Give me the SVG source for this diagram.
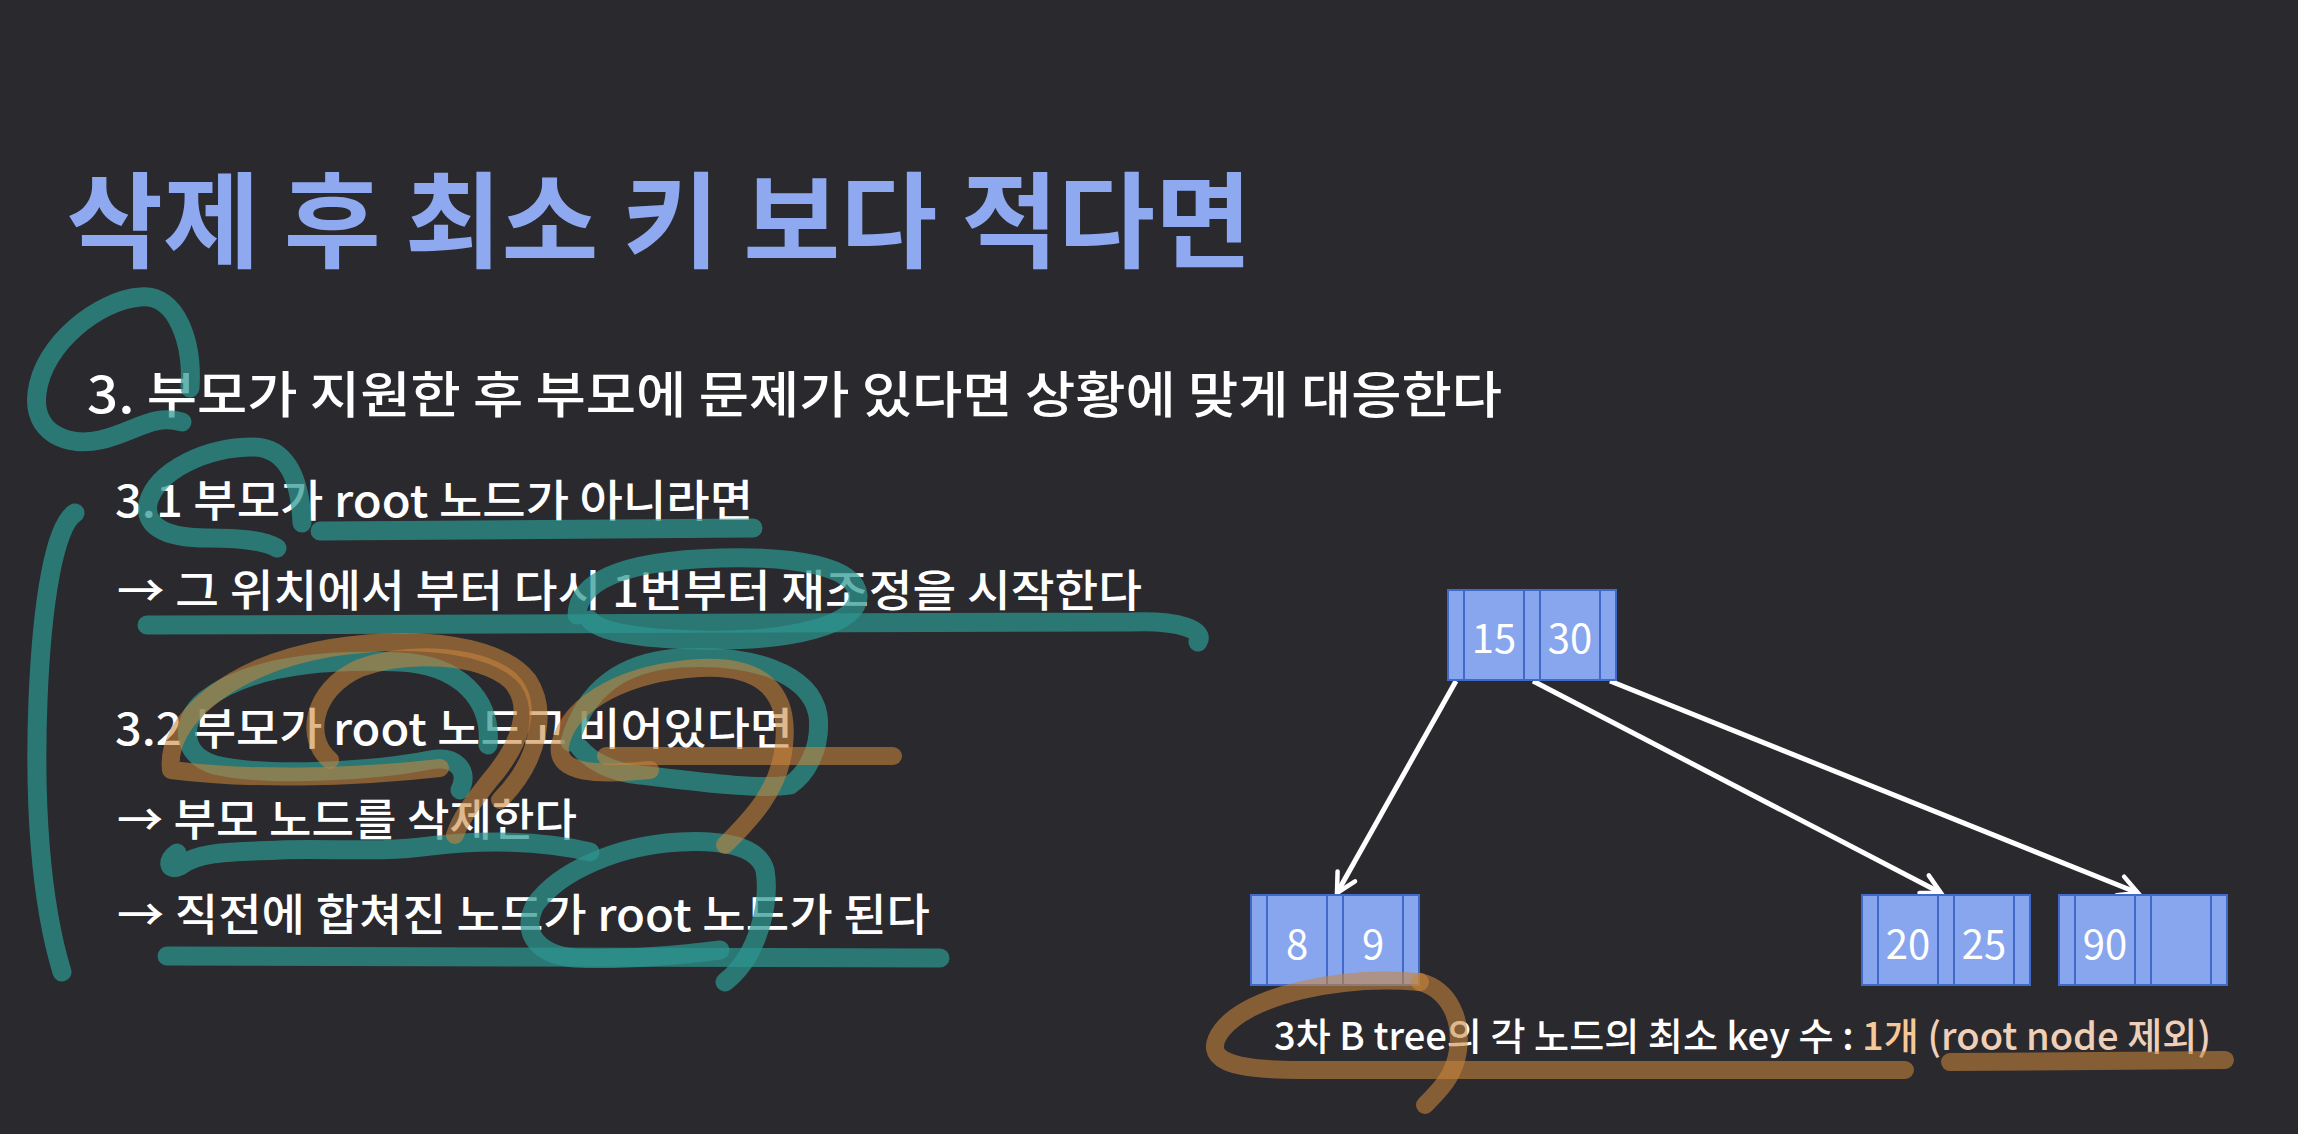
<svg xmlns="http://www.w3.org/2000/svg" width="2298" height="1134" viewBox="0 0 2298 1134">
<style>
.bg{fill:#2a292d}
.title{font-family:"Noto Sans CJK KR","Noto Sans",sans-serif;font-weight:700;fill:#8ea9ef}
.t{font-family:"Noto Sans CJK KR","Noto Sans",sans-serif;font-weight:500;fill:#ffffff}
.key{font-family:"Noto Sans CJK KR","Noto Sans",sans-serif;font-size:40px;fill:#ffffff;text-anchor:middle}
.box{fill:#88a6ee;stroke:#4169c9;stroke-width:2}
.sep{stroke:#4169c9;stroke-width:2}
.edge{stroke:#ffffff;stroke-width:5;fill:none}
.teal{fill:none;stroke:#2d9590;stroke-opacity:0.72;stroke-width:19;stroke-linecap:round;stroke-linejoin:round}
.orange{fill:none;stroke:#c8843c;stroke-opacity:0.58;stroke-width:18;stroke-linecap:round;stroke-linejoin:round}
</style>
<defs>
<marker id="ah" markerWidth="26" markerHeight="26" refX="22" refY="13" orient="auto" markerUnits="userSpaceOnUse">
<path d="M3,3 L22,13 L3,23" fill="none" stroke="#ffffff" stroke-width="4.5" stroke-linecap="round"/>
</marker>
<g id="nodebox">
<rect class="box" x="0" y="0" width="168" height="90"/>
<line class="sep" x1="16" y1="0" x2="16" y2="90"/>
<line class="sep" x1="76" y1="0" x2="76" y2="90"/>
<line class="sep" x1="92" y1="0" x2="92" y2="90"/>
<line class="sep" x1="152" y1="0" x2="152" y2="90"/>
</g>
</defs>
<rect class="bg" x="0" y="0" width="2298" height="1134"/>

<g id="title">
<text class="title" x="66" y="260" font-size="104" textLength="1186" lengthAdjust="spacingAndGlyphs">삭제 후 최소 키 보다 적다면</text>
</g>

<g id="body-text">
<text class="t" x="87" y="413" font-size="50" textLength="1415" lengthAdjust="spacingAndGlyphs">3. 부모가 지원한 후 부모에 문제가 있다면 상황에 맞게 대응한다</text>
<text class="t" x="115" y="517" font-size="44" textLength="638" lengthAdjust="spacingAndGlyphs">3.1 부모가 root 노드가 아니라면</text>
<text class="t" x="117" y="607" font-size="44" textLength="1025" lengthAdjust="spacingAndGlyphs">→ 그 위치에서 부터 다시 1번부터 재조정을 시작한다</text>
<text class="t" x="115" y="745" font-size="44" textLength="678" lengthAdjust="spacingAndGlyphs">3.2 부모가 root 노드고 비어있다면</text>
<text class="t" x="117" y="836" font-size="44" textLength="460" lengthAdjust="spacingAndGlyphs">→ 부모 노드를 삭제한다</text>
<text class="t" x="117" y="931" font-size="44" textLength="813" lengthAdjust="spacingAndGlyphs">→ 직전에 합쳐진 노드가 root 노드가 된다</text>
</g>

<g id="connectors">
<path class="edge" d="M1456,681 L1337,893" marker-end="url(#ah)"/>
<path class="edge" d="M1533,681 L1941,893" marker-end="url(#ah)"/>
<path class="edge" d="M1610,681 L2138,893" marker-end="url(#ah)"/>
</g>

<g id="node-root" transform="translate(1448,590)">
<use href="#nodebox"/>
<text class="key" x="46" y="63">15</text>
<text class="key" x="122" y="63">30</text>
</g>
<g id="node-8-9" transform="translate(1251,895)">
<use href="#nodebox"/>
<text class="key" x="46" y="64">8</text>
<text class="key" x="122" y="64">9</text>
</g>
<g id="node-20-25" transform="translate(1862,895)">
<use href="#nodebox"/>
<text class="key" x="46" y="64">20</text>
<text class="key" x="122" y="64">25</text>
</g>
<g id="node-90" transform="translate(2059,895)">
<use href="#nodebox"/>
<text class="key" x="46" y="64">90</text>
</g>

<g id="caption">
<text class="t" x="1274" y="1050" font-size="38" textLength="937" lengthAdjust="spacingAndGlyphs">3차 B tree의 각 노드의 최소 key 수 : <tspan fill="#f5c89a">1개</tspan> <tspan fill="#efcfb8">(root node 제외)</tspan></text>
</g>

<g id="annotations">
<path class="teal" d="M190,388 C193,343 177,293 140,297 C100,300 43,343 37,393 C32,433 67,447 100,440 C133,433 153,413 182,422"/>
<path class="teal" d="M302,523 C300,473 283,447 253,447 C207,447 157,470 148,503 C143,530 173,538 207,538 C240,538 263,540 277,548"/>
<path class="teal" d="M75,513 C55,525 42,600 38,700 C34,800 40,900 62,972"/>
<path class="teal" d="M320,531 L753,528"/>
<path class="teal" stroke-width="20" d="M147,625 L1130,622 C1180,620 1205,630 1198,642"/>
<path class="teal" d="M590,620 C600,632 640,639 700,640 C790,642 860,625 858,595 C855,565 790,556 720,558 C640,560 578,575 577,615"/>
<path class="teal" d="M460,790 C470,770 455,755 430,760 C380,770 270,778 215,765 C180,755 180,720 205,700 C250,665 330,659 400,662 C460,665 492,700 488,745"/>
<path class="teal" d="M580,748 C590,760 610,772 640,775 C700,782 760,790 790,785 C805,775 822,750 818,715 C810,672 750,654 680,658 C620,662 585,690 570,742"/>
<path class="teal" d="M177,853 C166,860 168,872 180,866 C200,850 240,852 280,850 C330,848 380,853 430,846 C480,840 540,840 590,852"/>
<path class="teal" d="M725,982 C760,955 770,900 765,870 C758,845 720,840 680,842 C620,845 560,870 535,905 C520,935 540,955 575,958 C620,960 680,955 720,950"/>
<path class="teal" stroke-width="20" d="M167,956 L940,958"/>
<path class="orange" d="M440,768 C350,778 250,780 171,770 C165,720 230,665 330,648 C420,634 500,645 528,680 C548,710 540,760 500,800"/>
<path class="orange" d="M330,760 C305,740 310,690 360,668 C410,650 480,655 510,680 C535,705 520,745 490,780 C470,805 460,820 455,835"/>
<path class="orange" d="M650,770 C600,775 555,775 560,745 C570,700 630,672 700,668 C760,665 790,690 784,745 C780,790 750,820 725,845"/>
<path class="orange" stroke-width="20" d="M606,756 L893,756"/>
<path class="orange" stroke-width="20" d="M1420,982 C1340,975 1250,995 1222,1030 C1200,1060 1230,1070 1300,1070 L1905,1070"/>
<path class="orange" stroke-width="20" d="M1420,982 C1450,990 1462,1020 1458,1050 C1455,1075 1440,1090 1425,1105"/>
<path class="orange" stroke-width="22" d="M1950,1062 L2225,1060"/>
</g>
</svg>
